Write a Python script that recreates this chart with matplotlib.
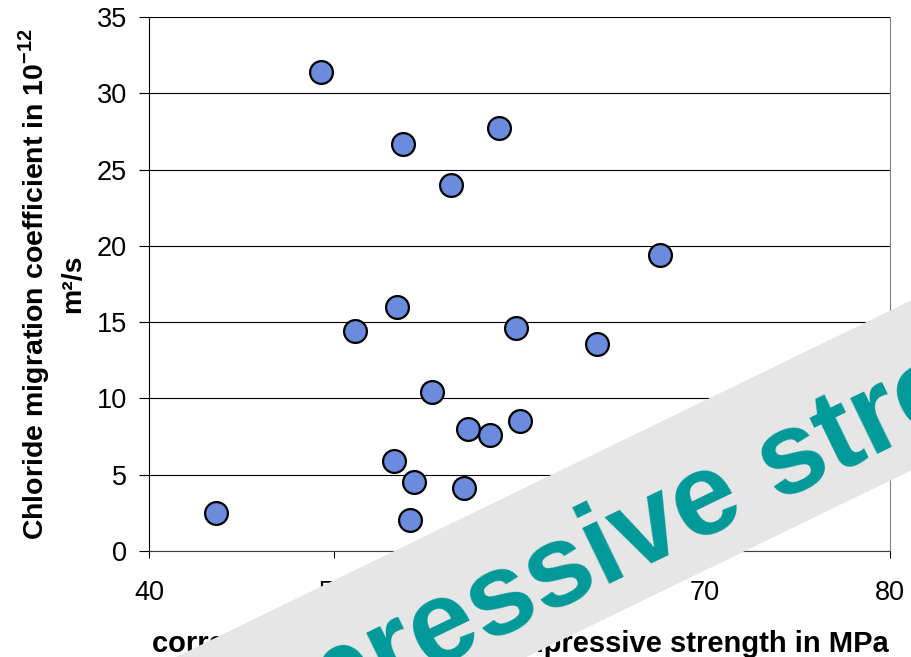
import matplotlib
matplotlib.use("Agg")
import matplotlib.pyplot as plt
from matplotlib.patches import Polygon
import numpy as np

# compressive strength (MPa) and chloride migration coefficient (1e-12 m2/s)
strength = [43.6, 49.3, 53.7, 58.9, 56.3, 67.6, 53.4, 51.1, 59.8, 64.2,
            55.3, 57.2, 58.4, 60.0, 53.2, 54.3, 57.0, 54.1]
migration = [2.5, 31.4, 26.7, 27.7, 24.0, 19.4, 16.0, 14.4, 14.6, 13.6,
             10.4, 8.0, 7.6, 8.5, 5.9, 4.5, 4.1, 2.0]

x_ticks = [40, 50, 60, 70, 80]
y_ticks = [0, 5, 10, 15, 20, 25, 30, 35]

plt.rcParams['font.family'] = ['Liberation Sans', 'DejaVu Sans']
plt.rcParams['mathtext.fontset'] = 'custom'
plt.rcParams['mathtext.rm'] = 'Liberation Sans'
plt.rcParams['mathtext.bf'] = 'Liberation Sans:bold'

W, H = 912, 657
fig = plt.figure(figsize=(W / 100, H / 100), dpi=100)

def fx(px):
    return px / W

def fy(py):
    return 1 - py / H

ax = fig.add_axes([fx(149), fy(551), fx(890) - fx(149), fy(17) - fy(551)])

ax.scatter(strength, migration, s=270, c='#6B8BDC', edgecolors='black',
           linewidths=1.6, zorder=3, clip_on=False)

ax.set_xlim(40, 80)
ax.set_ylim(0, 35)
ax.set_xticks(x_ticks)
ax.set_yticks(y_ticks)
ax.yaxis.grid(True, color='black', linewidth=0.8)
ax.set_axisbelow(True)

ax.spines['right'].set_color('#808080')
ax.spines['left'].set_color('black')
ax.spines['bottom'].set_color('#404040')
ax.spines['top'].set_visible(False)

ax.tick_params(axis='y', direction='out', length=7, width=0.8, pad=9,
               labelsize=19.5)
ax.tick_params(axis='x', direction='out', length=5, width=0.8, pad=16,
               labelsize=19.5)

fig.text(fx(520), fy(652), 'corresponding cylinder compressive strength in MPa',
         ha='center', va='baseline', fontsize=21, fontweight='bold')
fig.text(fx(51), fy(284),
         'Chloride migration coefficient in 10$^{\\mathbf{-12}}$\nm\u00b2/s',
         ha='center', va='center', rotation=90, fontsize=20.5,
         fontweight='bold', multialignment='center', linespacing=1.4)

# diagonal banner across the lower right
slope = 0.485
xs = np.array([-200, 1100])
upper = 300 + (912 - xs) * slope
lower = 470 + (912 - xs) * slope
band = Polygon([[fx(xs[0]), fy(upper[0])], [fx(xs[1]), fy(upper[1])],
                [fx(xs[1]), fy(lower[1])], [fx(xs[0]), fy(lower[0])]],
               closed=True, transform=fig.transFigure, facecolor='#E6E6E6',
               edgecolor='none', zorder=10)
fig.add_artist(band)

angle = np.degrees(np.arctan(slope))
banner = fig.text(fx(652), fy(563), 'compressive strength', ha='center',
                  va='baseline', rotation=angle, rotation_mode='anchor',
                  fontsize=84, fontweight='bold', color='#009999')
banner.set_zorder(11)

fig.savefig('out.png', dpi=100)
